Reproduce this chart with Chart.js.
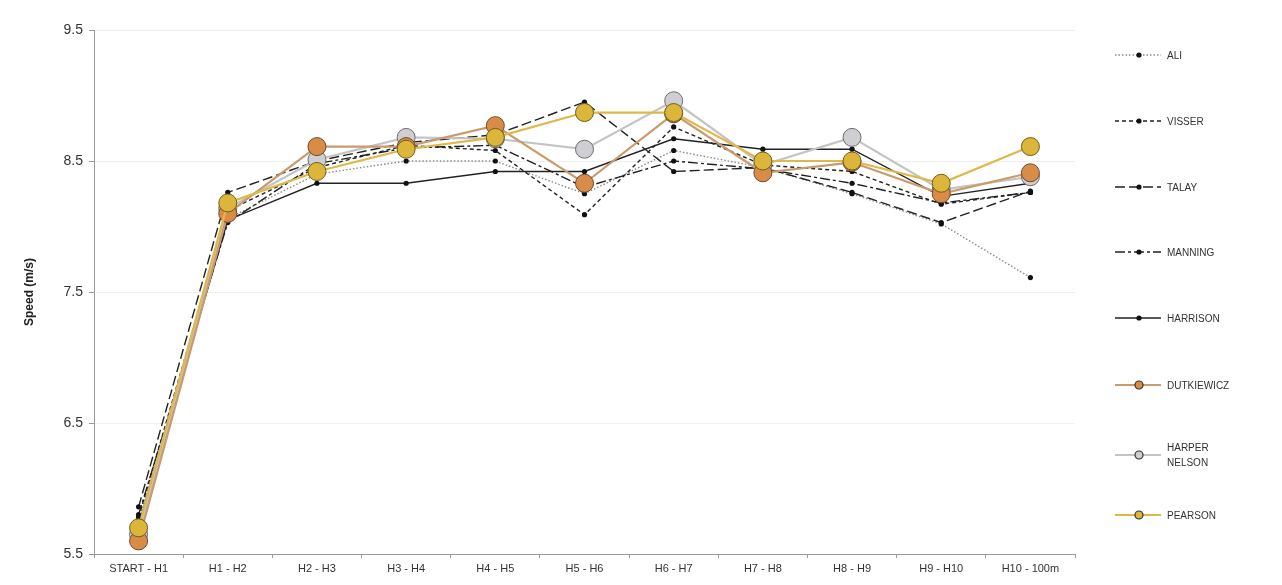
<!DOCTYPE html>
<html>
<head>
<meta charset="utf-8">
<script src="https://cdn.jsdelivr.net/npm/chart.js@4"></script>
<style>
  html, body { margin: 0; padding: 0; background: #fff; }
  #wrap { width: 1282px; height: 585px; }
</style>
</head>
<body>
<div id="wrap"><canvas id="speedChart" width="1282" height="585"></canvas></div>
<script>
// split labels
const splits = ['START - H1', 'H1 - H2', 'H2 - H3', 'H3 - H4', 'H4 - H5', 'H5 - H6',
  'H6 - H7', 'H7 - H8', 'H8 - H9', 'H9 - H10', 'H10 - 100m'];
const yTicks = [5.5, 6.5, 7.5, 8.5, 9.5];

// speeds (m/s) per split
const ali = [5.75, 8.06, 8.40, 8.50, 8.50, 8.25, 8.58, 8.45, 8.25, 8.02, 7.61];
const visser = [5.78, 8.12, 8.45, 8.62, 8.58, 8.09, 8.76, 8.47, 8.42, 8.17, 8.26];
const talay = [5.86, 8.26, 8.50, 8.64, 8.70, 8.95, 8.42, 8.45, 8.26, 8.03, 8.27];
const manning = [5.80, 8.03, 8.48, 8.60, 8.62, 8.30, 8.50, 8.44, 8.33, 8.18, 8.26];
const harrison = [5.72, 8.05, 8.33, 8.33, 8.42, 8.42, 8.67, 8.59, 8.59, 8.23, 8.33];
const dutkiewicz = [5.60, 8.10, 8.61, 8.61, 8.77, 8.33, 8.86, 8.41, 8.49, 8.25, 8.41];
const harperNelson = [5.65, 8.14, 8.51, 8.68, 8.67, 8.59, 8.96, 8.47, 8.68, 8.28, 8.38];
const pearson = [5.70, 8.18, 8.42, 8.59, 8.68, 8.87, 8.87, 8.50, 8.50, 8.33, 8.61];

const seriesNames = ['ALI', 'VISSER', 'TALAY', 'MANNING', 'HARRISON', 'DUTKIEWICZ', 'HARPER NELSON', 'PEARSON'];

function blackSeries(label, data, dash, color, order) {
  return {
    label: label,
    data: data,
    borderColor: color,
    borderWidth: 1.4,
    borderDash: dash,
    pointRadius: 2.6,
    pointBackgroundColor: '#111',
    pointBorderColor: '#111',
    pointBorderWidth: 0,
    tension: 0,
    order: order
  };
}

function bigSeries(label, data, line, fill, edge, order) {
  return {
    label: label,
    data: data,
    borderColor: line,
    borderWidth: 2.2,
    pointRadius: 9,
    pointBackgroundColor: fill,
    pointBorderColor: edge,
    pointBorderWidth: 1,
    tension: 0,
    order: order
  };
}

const datasets = [
  blackSeries(seriesNames[0], ali, [1.5, 2], '#8a8a8a', 7),
  blackSeries(seriesNames[1], visser, [4, 3], '#222', 6),
  blackSeries(seriesNames[2], talay, [10, 4], '#222', 5),
  blackSeries(seriesNames[3], manning, [10, 3, 3, 3], '#222', 4),
  blackSeries(seriesNames[4], harrison, [], '#222', 3),
  bigSeries(seriesNames[5], dutkiewicz, '#c99a6c', '#d98c48', '#6e4a28', 1),
  bigSeries(seriesNames[6], harperNelson, '#c4c4c4', '#cfcfd3', '#6c6c6c', 2),
  bigSeries(seriesNames[7], pearson, '#dfb84a', '#dcb63a', '#6e5e1c', 0)
];

// legend drawn by hand so each entry keeps its dash pattern and marker
const sideLegend = {
  id: 'sideLegend',
  afterDraw(chart) {
    const ctx = chart.ctx;
    const rows = [55, 121, 187, 252, 318, 385, 455, 515];
    ctx.save();
    datasets.forEach((ds, i) => {
      const y = rows[i];
      ctx.strokeStyle = ds.borderColor;
      ctx.lineWidth = ds.borderWidth;
      ctx.setLineDash(ds.borderDash || []);
      ctx.beginPath();
      ctx.moveTo(1115, y);
      ctx.lineTo(1161, y);
      ctx.stroke();
      ctx.setLineDash([]);
      ctx.beginPath();
      const r = ds.pointRadius > 5 ? 4 : 2.6;
      ctx.arc(1139, y, r, 0, Math.PI * 2);
      ctx.fillStyle = ds.pointBackgroundColor;
      ctx.fill();
      if (ds.pointRadius > 5) {
        ctx.lineWidth = 1.2;
        ctx.strokeStyle = '#333';
        ctx.stroke();
      }
      ctx.fillStyle = '#333';
      ctx.font = '10px "Liberation Sans", Arial, sans-serif';
      ctx.textBaseline = 'middle';
      if (ds.label === 'HARPER NELSON') {
        ctx.fillText('HARPER', 1167, y - 7);
        ctx.fillText('NELSON', 1167, y + 8);
      } else {
        ctx.fillText(ds.label, 1167, y + 1);
      }
    });
    ctx.restore();
  }
};

new Chart(document.getElementById('speedChart'), {
  type: 'line',
  data: { labels: splits, datasets: datasets },
  options: {
    responsive: false,
    animation: false,
    layout: { padding: { left: 0, right: 207, top: 30, bottom: 0 } },
    plugins: {
      legend: { display: false },
      tooltip: { enabled: false }
    },
    scales: {
      x: {
        offset: true,
        grid: { display: true, drawOnChartArea: false, tickLength: 4, color: '#999', offset: true },
        border: { color: '#999' },
        ticks: {
          color: '#333',
          font: { family: '"Liberation Sans", Arial, sans-serif', size: 11 },
          maxRotation: 0,
          autoSkip: false,
          padding: 4
        },
        afterFit(scale) { scale.height = 31; }
      },
      y: {
        min: yTicks[0],
        max: yTicks[yTicks.length - 1],
        afterBuildTicks(scale) { scale.ticks = yTicks.map(v => ({ value: v })); },
        grid: { color: '#efefef', tickLength: 5, tickColor: '#999' },
        border: { color: '#999' },
        ticks: {
          color: '#333',
          font: { family: '"Liberation Sans", Arial, sans-serif', size: 14 },
          padding: 6,
          callback: v => Number(v).toFixed(1)
        },
        title: {
          display: true,
          text: 'Speed (m/s)',
          color: '#222',
          font: { family: '"Liberation Sans", Arial, sans-serif', size: 12, weight: 'bold' },
          padding: { top: 22, bottom: 0 }
        },
        afterFit(scale) { scale.width = 94; }
      }
    }
  },
  plugins: [sideLegend]
});
</script>
</body>
</html>
